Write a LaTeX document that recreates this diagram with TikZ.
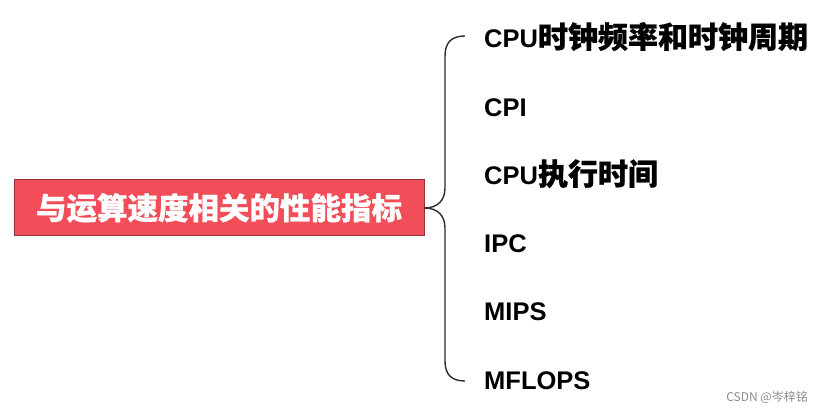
\documentclass[tikz,border=0pt]{standalone}
\usepackage{fontspec}
\setmainfont{Liberation Sans}
\newfontfamily\cjk[BoldFeatures={FakeBold=0.6}]{Noto Sans CJK SC}
\newfontfamily\cjklight{Noto Sans CJK SC}
\definecolor{boxred}{RGB}{242,78,90}
\definecolor{boxedge}{RGB}{150,50,55}
\definecolor{bracegray}{RGB}{45,45,45}
\begin{document}
\begin{tikzpicture}[x=1pt,y=-1pt,
  rootbox/.style={draw=boxedge,line width=1pt,fill=boxred,minimum width=410pt,minimum height=56pt,inner sep=0pt,text=white,font=\cjk\bfseries\fontsize{30.5}{34}\selectfont},
  item/.style={anchor=base west,inner sep=0pt,text=black,font=\bfseries\fontsize{25.5}{30}\selectfont},
  bracestroke/.style={draw=bracegray,line width=1.4pt}]
\useasboundingbox[fill=white] (0,0) rectangle (820,414);
\node[rootbox] (root) at (219,208) {与运算速度相关的性能指标};
\node[item] (i1) at (484,48) {CPU{\cjk\bfseries\fontsize{30}{32}\selectfont 时钟频率和时钟周期}};
\node[item] (i2) at (484,117) {CPI};
\node[item] (i3) at (484,185) {CPU{\cjk\bfseries\fontsize{30}{32}\selectfont 执行时间}};
\node[item] (i4) at (484,253) {IPC};
\node[item] (i5) at (484,321) {MIPS};
\node[item] (i6) at (484,389) {MFLOPS};
\coordinate (tTop) at (465,36);
\coordinate (tBot) at (465,381);
\draw[bracestroke] (root.east) .. controls (438,208) and (445,200) .. (445,188)
  -- (445,56) .. controls (445,42) and (452,36) .. (tTop);
\draw[bracestroke] (root.east) .. controls (438,208) and (445,216) .. (445,228)
  -- (445,361) .. controls (445,375) and (452,381) .. (tBot);
\node[anchor=base east,inner sep=0pt,text=black!45,font=\cjklight\fontsize{12}{14}\selectfont] (wm) at (808,401) {CSDN @岑梓铭};
\end{tikzpicture}
\end{document}
